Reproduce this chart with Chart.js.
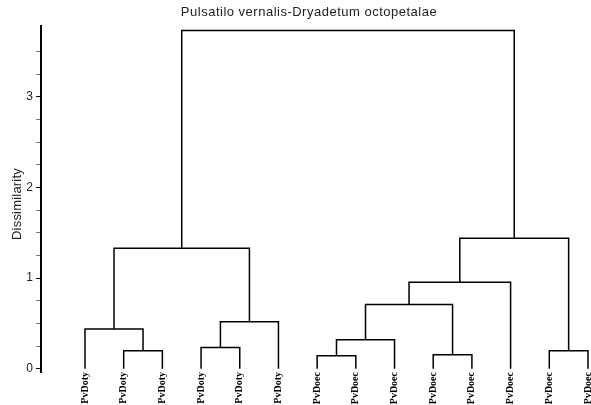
<!DOCTYPE html>
<html>
<head>
<meta charset="utf-8">
<script src="https://cdn.jsdelivr.net/npm/chart.js@4/dist/chart.umd.min.js"></script>
<style>
  html, body { margin: 0; padding: 0; background: #fff; }
  #wrap { width: 591px; height: 405px; position: relative; }
</style>
</head>
<body>
<div id="wrap"><canvas id="c" width="591" height="405"></canvas></div>
<script>
// ---- data ----
const chartTitle = 'Pulsatilo vernalis-Dryadetum octopetalae';
const yAxisTitle = 'Dissimilarity';
const leafLabels = ['PvDoty','PvDoty','PvDoty','PvDoty','PvDoty','PvDoty',
                    'PvDoec','PvDoec','PvDoec','PvDoec','PvDoec','PvDoec','PvDoec','PvDoec'];
// merges (linkage): ids 0..13 are leaves, 14+ are clusters in merge order
const mergeLeft   = [1, 3, 6, 9, 12, 0, 15, 16, 21, 22, 19, 23, 24];
const mergeRight  = [2, 4, 7, 10, 13, 14, 5, 8, 17, 11, 20, 18, 25];
const mergeHeight = [0.20, 0.235, 0.143, 0.155, 0.20, 0.44, 0.52, 0.32, 0.71, 0.955, 1.33, 1.44, 3.73];
const yTicks      = [0, 0.25, 0.5, 0.75, 1, 1.25, 1.5, 1.75, 2, 2.25, 2.5, 2.75, 3, 3.25, 3.5];
const yTickLabels = ['0', '', '', '', '1', '', '', '', '2', '', '', '', '3', '', ''];

// ---- build link datasets ----
const nLeaves = leafLabels.length;
const pos = leafLabels.map((_, i) => i);
const ht = leafLabels.map(() => 0);
const datasets = [];
for (let k = 0; k < mergeHeight.length; k++) {
  const a = mergeLeft[k], b = mergeRight[k], h = mergeHeight[k];
  datasets.push({
    data: [{x: pos[a], y: ht[a]}, {x: pos[a], y: h}, {x: pos[b], y: h}, {x: pos[b], y: ht[b]}],
    borderColor: '#000', borderWidth: 1.5, pointRadius: 0, showLine: true, tension: 0, fill: false
  });
  pos[nLeaves + k] = (pos[a] + pos[b]) / 2;
  ht[nLeaves + k] = h;
}
const leafPositions = leafLabels.map((_, i) => i);

const textPlugin = {
  id: 'texts',
  afterDraw(chart) {
    const ctx = chart.ctx;
    ctx.save();
    ctx.fillStyle = '#222';
    ctx.font = '13px "Liberation Sans", Arial, sans-serif';
    try { ctx.letterSpacing = '0.5px'; } catch (e) {}
    ctx.textAlign = 'center';
    ctx.textBaseline = 'middle';
    ctx.fillText(chartTitle, 309, 12);
    try { ctx.letterSpacing = '0.2px'; } catch (e) {}
    ctx.translate(17, 204);
    ctx.rotate(-Math.PI / 2);
    ctx.fillText(yAxisTitle, 0, 0);
    ctx.restore();
  }
};

new Chart(document.getElementById('c'), {
  type: 'scatter',
  data: { datasets },
  plugins: [textPlugin],
  options: {
    responsive: false,
    animation: false,
    layout: { padding: { top: 26, left: 0, right: 0, bottom: 0 } },
    plugins: { legend: { display: false }, tooltip: { enabled: false }, title: { display: false } },
    scales: {
      x: {
        type: 'linear',
        min: -1.137, max: 13.078,
        grid: { display: false, drawTicks: false, tickLength: 0 },
        border: { display: false },
        afterBuildTicks: s => { s.ticks = leafPositions.map(v => ({ value: v })); },
        afterFit: s => { s.height = 33; s.paddingLeft = 0; s.paddingRight = 0; },
        ticks: {
          autoSkip: false, minRotation: 90, maxRotation: 90, padding: 0,
          color: '#000',
          font: { family: '"Liberation Serif", "Times New Roman", serif', size: 10, weight: 'bold' },
          callback: (v) => leafLabels[v]
        }
      },
      y: {
        type: 'linear',
        min: -0.035, max: 3.78,
        grid: {
          display: true, drawOnChartArea: false, drawTicks: true, tickLength: 5,
          color: ctx => (ctx.tick && Number.isInteger(ctx.tick.value)) ? '#000' : '#777',
          lineWidth: 1
        },
        border: { display: true, color: '#000', width: 2 },
        afterBuildTicks: s => { s.ticks = yTicks.map(v => ({ value: v })); },
        afterFit: s => { s.width = 41; s.paddingTop = 0; s.paddingBottom = 0; },
        ticks: {
          autoSkip: false, padding: 3, color: '#222',
          font: { family: '"Liberation Sans", Arial, sans-serif', size: 12 },
          callback: (v, i) => yTickLabels[i]
        }
      }
    }
  }
});
</script>
</body>
</html>
